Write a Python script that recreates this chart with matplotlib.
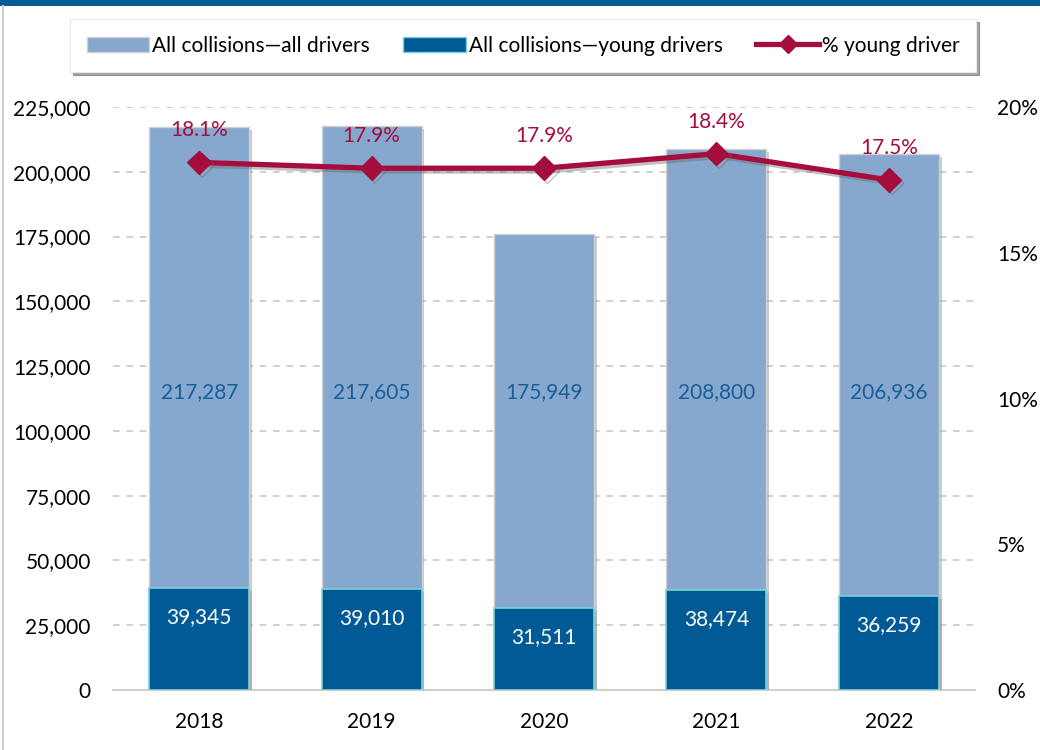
import numpy as np
import matplotlib.pyplot as plt
import matplotlib.patheffects as pe
from matplotlib.ticker import FuncFormatter, MultipleLocator
from matplotlib.patches import Rectangle
from matplotlib.lines import Line2D

years = ['2018', '2019', '2020', '2021', '2022']
all_drivers = [217287, 217605, 175949, 208800, 206936]
young_drivers = [39345, 39010, 31511, 38474, 36259]
pct_young = [18.1, 17.9, 17.9, 18.4, 17.5]

LIGHT = '#86A8CE'
DARK = '#005A96'
EDGE_DARK = '#7FD0D8'
CRIMSON = '#A50D3D'
LABEL_BLUE = '#1A5E99'
FS = 15

plt.rcParams['font.family'] = ['Lato', 'DejaVu Sans']

fig = plt.figure(figsize=(10.4, 7.5), dpi=100)
ax = fig.add_axes([0.1087, 0.08, 0.8288, 0.7773])
ax2 = ax.twinx()

x = np.arange(len(years))
shadow = [pe.SimplePatchShadow(offset=(2, -2), shadow_rgbFace='#999999', alpha=0.5), pe.Normal()]

ax.bar(x, all_drivers, width=0.58, color=LIGHT, edgecolor='#D0D0D0', lw=1,
       zorder=2, path_effects=shadow)
ax.bar(x, young_drivers, width=0.58, color=DARK, edgecolor=EDGE_DARK, lw=1.2,
       zorder=3, path_effects=shadow)

ax.set_xlim(-0.5, len(years) - 0.5)
ax.set_ylim(0, 225000)
ax.yaxis.set_major_locator(MultipleLocator(25000))
ax.yaxis.set_major_formatter(FuncFormatter(lambda v, p: '{:,.0f}'.format(v)))
ax.set_xticks(x)
ax.set_xticklabels(years)
ax.grid(axis='y', color='#C8C8C8', ls=(0, (4, 4)), lw=1.2, zorder=0)
ax.set_axisbelow(True)
for s in ['top', 'left', 'right']:
    ax.spines[s].set_visible(False)
ax.spines['bottom'].set_color('#D0D0D0')
ax.spines['bottom'].set_linewidth(1.5)
ax.tick_params(axis='both', length=0, labelsize=FS, colors='black')
ax.tick_params(axis='y', pad=16)
ax.tick_params(axis='x', pad=16)

# value labels
for xi, total, young in zip(x, all_drivers, young_drivers):
    ax.text(xi, 115000, '{:,}'.format(total), ha='center', va='center',
            fontsize=FS, color=LABEL_BLUE, zorder=5)
    ax.annotate('{:,}'.format(young), (xi, young), xytext=(0, -21),
                textcoords='offset points', ha='center', va='center',
                fontsize=FS, color='white', zorder=5)

line_shadow = [pe.SimpleLineShadow(offset=(2, -2), shadow_color='#666666', alpha=0.4), pe.Normal()]
ax2.plot(x, pct_young, color=CRIMSON, lw=3.8, marker='D', ms=12, zorder=6,
         path_effects=line_shadow)
ax2.set_ylim(0, 20)
ax2.yaxis.set_major_locator(MultipleLocator(5))
ax2.yaxis.set_major_formatter(FuncFormatter(lambda v, p: '{:.0f}%'.format(v)))
for s in ['top', 'left', 'right', 'bottom']:
    ax2.spines[s].set_visible(False)
ax2.tick_params(axis='y', length=0, labelsize=FS, pad=16)
for xi, p in zip(x, pct_young):
    ax2.annotate('{:.1f}%'.format(p), (xi, p), xytext=(0, 23),
                 textcoords='offset points', ha='center', va='center',
                 fontsize=FS, color=CRIMSON)

# legend
handles = [Rectangle((0, 0), 1, 1, facecolor=LIGHT, edgecolor='#D0D0D0'),
           Rectangle((0, 0), 1, 1, facecolor=DARK, edgecolor=EDGE_DARK),
           Line2D([], [], color=CRIMSON, lw=3.8, marker='D', ms=9)]
labels = ['All collisions\u2014all drivers', 'All collisions\u2014young drivers', '% young driver']
leg = fig.legend(handles, labels, loc='center', bbox_to_anchor=(0.503, 0.939), ncol=3,
                 fontsize=FS, frameon=True, fancybox=False, shadow=True,
                 handlelength=3.0, handleheight=0.7, columnspacing=1.6,
                 handletextpad=0.15, borderpad=0.8)
leg.get_frame().set_edgecolor('#E8E8E8')
leg.get_frame().set_linewidth(0.8)

# top band and left border
fig.patches.append(Rectangle((0, 0.992), 1, 0.008, transform=fig.transFigure,
                             facecolor=DARK, edgecolor='none'))
fig.lines.append(Line2D([0.003, 0.003], [0, 0.992], transform=fig.transFigure,
                        color='#D0D0D0', lw=1.5))

fig.savefig('out.png', dpi=100)
